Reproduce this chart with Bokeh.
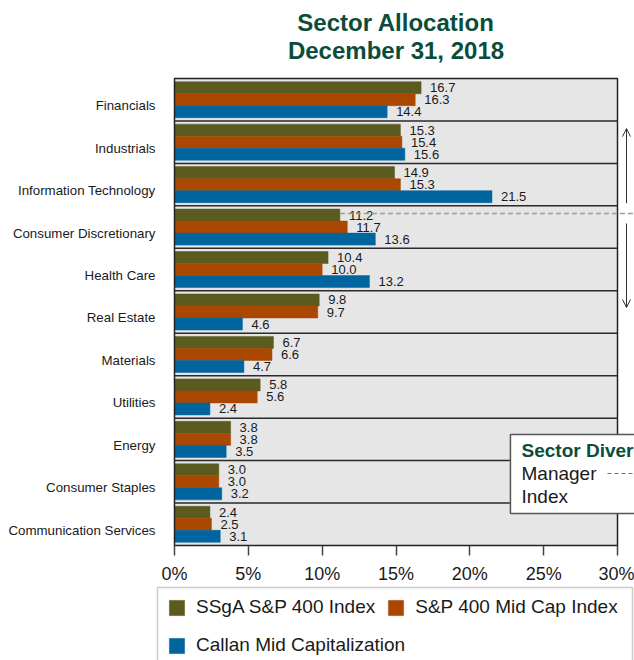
from bokeh.plotting import figure
from bokeh.models import (ColumnDataSource, Range1d, FixedTicker, Legend, LegendItem,
                          Label, BoxAnnotation, Arrow, OpenHead)
from bokeh.core.properties import value
from bokeh.embed import file_html
from bokeh.resources import INLINE

# ---------------- data ----------------
sectors = ["Financials", "Industrials", "Information Technology", "Consumer Discretionary",
           "Health Care", "Real Estate", "Materials", "Utilities", "Energy",
           "Consumer Staples", "Communication Services"]
ssga = [16.7, 15.3, 14.9, 11.2, 10.4, 9.8, 6.7, 5.8, 3.8, 3.0, 2.4]
sp400 = [16.3, 15.4, 15.3, 11.7, 10.0, 9.7, 6.6, 5.6, 3.8, 3.0, 2.5]
callan = [14.4, 15.6, 21.5, 13.6, 13.2, 4.6, 4.7, 2.4, 3.5, 3.2, 3.1]
series_names = ["SSgA S&P 400 Index", "S&P 400 Mid Cap Index", "Callan Mid Capitalization"]
x_ticks = [0, 5, 10, 15, 20, 25, 30]
x_tick_labels = ["0%", "5%", "10%", "15%", "20%", "25%", "30%"]
title_lines = ["Sector Allocation", "December 31, 2018"]
manager_sector = "Consumer Discretionary"

# ---------------- style ----------------
FONT = value("Liberation Sans")
GREEN = "#5b5b20"
ORANGE = "#aa4700"
BLUE = "#00659e"
TITLE_C = "#0b4d3b"
TEXT_C = "#1a1a1a"
colors = [GREEN, ORANGE, BLUE]

W, H = 634, 660
PX_X = 443.0 / 30          # pixels per percent
PX_Y = 467.0 / 11          # pixels per sector band
LEFT_PX, TOP_PX = 174, 78

n = len(sectors)
centers = [n - 0.5 - i for i in range(n)]
BAR_H = 0.283
offsets = [BAR_H, 0.0, -BAR_H]

x0 = -LEFT_PX / PX_X
x1 = (W - LEFT_PX) / PX_X
y1 = n + TOP_PX / PX_Y
y0 = n - (H - TOP_PX) / PX_Y

p = figure(width=W, height=H, output_backend="svg", toolbar_location=None,
           x_range=Range1d(x0, x1), y_range=Range1d(y0, y1),
           min_border_left=0, min_border_right=0, min_border_top=0, min_border_bottom=0)
p.outline_line_color = None
p.grid.visible = False
p.background_fill_color = "white"
p.border_fill_color = "white"

# background panel
p.quad(left=[0], right=[30], bottom=[0], top=[n], fill_color="#e6e6e6", line_color=None)

renderers = []
for vals, col, off in zip([ssga, sp400, callan], colors, offsets):
    src = ColumnDataSource(dict(y=[c + off for c in centers], right=vals,
                                lab=["%.1f" % v for v in vals]))
    r = p.hbar(y="y", right="right", left=0, height=BAR_H, source=src,
               fill_color=col, line_color=col, line_width=0.5)
    renderers.append(r)
    p.text(x="right", y="y", text="lab", source=src, x_offset=9, text_baseline="middle",
           text_align="left", text_font=FONT, text_font_size="13px", text_color=TEXT_C)

# separators between sectors
seps = list(range(1, n))
p.segment(x0=[0] * len(seps), x1=[30] * len(seps), y0=seps, y1=seps,
          line_color="#2a2a2a", line_width=1.5)
# panel outline
p.quad(left=[0], right=[30], bottom=[0], top=[n], fill_color=None,
       line_color="#222222", line_width=1.5)

# manager dashed line
mi = sectors.index(manager_sector)
my = centers[mi] + 0.32
p.segment(x0=[ssga[mi]], x1=[x1 + 1], y0=[my], y1=[my], line_color="#a0a07a",
          line_width=1.5, line_dash="5 3")

# diversification box (cut at right edge)
p.quad(left=[22.75], right=[x1 + 2], bottom=[0.754], top=[2.615], fill_color="white",
       line_color="#555555", line_width=1.5)
p.text(x=[23.5], y=[2.238], text=["Sector Diversification"], text_font=FONT,
       text_font_size="19px", text_font_style="bold", text_color=TITLE_C,
       text_baseline="middle")
p.text(x=[23.5, 23.5], y=[1.696, 1.154], text=["Manager", "Index"], text_font=FONT,
       text_font_size="19px", text_color=TEXT_C, text_baseline="middle")
p.segment(x0=[29.32], x1=[x1 + 1], y0=[1.696], y1=[1.696], line_color="#7a7a40",
          line_width=1, line_dash="4 3")

# arrows on the right
p.add_layout(Arrow(end=OpenHead(size=8, line_color="#333333", line_width=1),
                   x_start=30.61, y_start=8.06, x_end=30.61, y_end=9.82,
                   line_color="#333333", line_width=1))
p.add_layout(Arrow(end=OpenHead(size=8, line_color="#333333", line_width=1),
                   x_start=30.61, y_start=7.585, x_end=30.61, y_end=5.607,
                   line_color="#333333", line_width=1))

# axes (fixed at the panel's origin)
xa = p.xaxis[0]
xa.fixed_location = 0
xa.ticker = FixedTicker(ticks=x_ticks)
xa.major_label_overrides = {t: l for t, l in zip(x_ticks, x_tick_labels)}
xa.axis_line_color = None
xa.major_tick_out = 10
xa.major_tick_in = 0
xa.major_tick_line_color = "#444444"
xa.major_tick_line_width = 1.5
xa.minor_tick_line_color = None
xa.major_label_text_font = "Liberation Sans"
xa.major_label_text_font_size = "18px"
xa.major_label_text_color = TEXT_C
xa.major_label_standoff = 8

LABEL_SHIFT = 0.14
ytick_pos = [c - LABEL_SHIFT for c in centers]
ya = p.yaxis[0]
ya.fixed_location = 0
ya.ticker = FixedTicker(ticks=ytick_pos)
ya.major_label_overrides = {c: s for c, s in zip(ytick_pos, sectors)}
ya.axis_line_color = None
ya.major_tick_out = 0
ya.major_tick_in = 0
ya.minor_tick_line_color = None
ya.major_label_text_font = "Liberation Sans"
ya.major_label_text_font_size = "13.3px"
ya.major_label_text_color = TEXT_C
ya.major_label_standoff = 19

# title
for txt, yy in zip(title_lines, [(545 - 22) / PX_Y, (545 - 50) / PX_Y]):
    p.add_layout(Label(x=15, y=yy, text=txt, text_align="center", text_baseline="middle",
                       text_font="Liberation Sans", text_font_size="24px",
                       text_font_style="bold", text_color=TITLE_C))

# legend box border
p.add_layout(BoxAnnotation(left=(157 - LEFT_PX) / PX_X, right=(632 - LEFT_PX) / PX_X,
                           top=-(587 - 545) / PX_Y, bottom=y0 - 1,
                           fill_color="white", fill_alpha=1.0, line_color="#555555",
                           line_width=1.5))

leg_common = dict(orientation="horizontal", glyph_width=19, glyph_height=19,
                  label_standoff=10, spacing=11, padding=0, margin=0,
                  border_line_color=None, background_fill_alpha=0,
                  label_text_font="Liberation Sans", label_text_font_size="19px",
                  label_text_color=TEXT_C)
leg1 = Legend(items=[LegendItem(label=series_names[0], renderers=[renderers[0]]),
                     LegendItem(label=series_names[1], renderers=[renderers[1]])],
              location=(167, 42), **leg_common)
leg2 = Legend(items=[LegendItem(label=series_names[2], renderers=[renderers[2]])],
              location=(167, 4), **leg_common)
p.add_layout(leg1, "center")
p.add_layout(leg2, "center")

open("out.html", "w").write(file_html(p, INLINE))
